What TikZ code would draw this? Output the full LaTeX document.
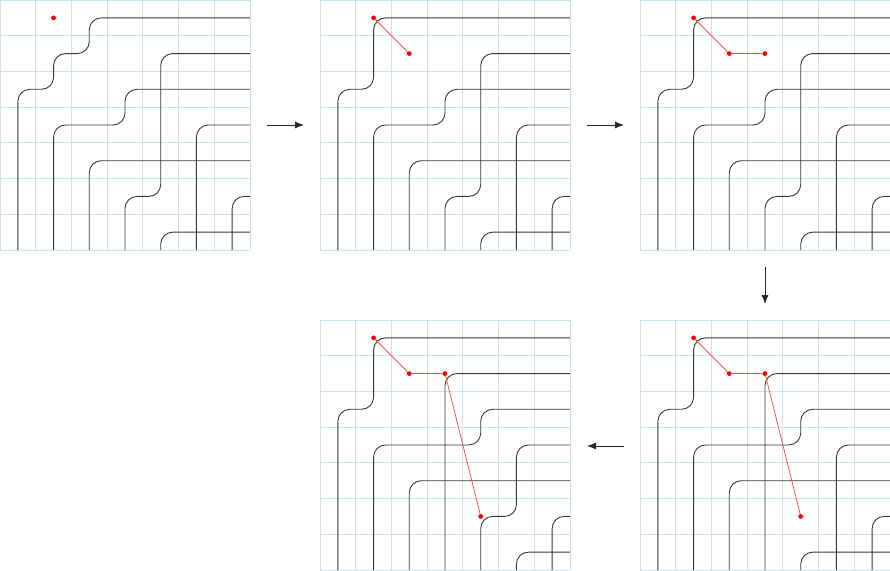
\documentclass[tikz,border=0pt]{standalone}
\usetikzlibrary{arrows.meta}
\definecolor{gridblue}{RGB}{198,228,238}
\definecolor{wiregray}{RGB}{55,55,55}
\definecolor{pathred}{RGB}{242,80,80}
\tikzset{
  gridline/.style={draw=gridblue, line width=0.8pt},
  wire/.style={draw=wiregray, line width=0.9pt, rounded corners=12pt},
  dot/.style={circle, fill=red, draw=none, inner sep=0pt, minimum size=4.8pt},
  redpath/.style={draw=pathred, line width=0.8pt},
  steparrow/.style={-{Latex[length=9pt,width=7pt]}, line width=0.8pt, draw=black!85, fill=black},
  panelscope/.style={x=35.7143pt, y=-35.7143pt}
}
\newcommand\mygrid{%
  \foreach \i in {0,...,7}{%
    \draw[gridline] (\i,0) -- (\i,7);
    \draw[gridline] (0,\i) -- (7,\i);
  }}
\newcommand\wireOneA{\draw[wire] (0.5,7) -- (0.5,2.5) -- (1.5,2.5) -- (1.5,1.5) -- (2.5,1.5) -- (2.5,0.5) -- (7,0.5);}
\newcommand\wireOneB{\draw[wire] (0.5,7) -- (0.5,2.5) -- (1.5,2.5) -- (1.5,0.5) -- (7,0.5);}
\newcommand\wireTwoA{\draw[wire] (1.5,7) -- (1.5,3.5) -- (3.5,3.5) -- (3.5,2.5) -- (7,2.5);}
\newcommand\wireTwoB{\draw[wire] (1.5,7) -- (1.5,3.5) -- (4.5,3.5) -- (4.5,2.5) -- (7,2.5);}
\newcommand\wireThree{\draw[wire] (2.5,7) -- (2.5,4.5) -- (7,4.5);}
\newcommand\wireFourA{\draw[wire] (3.5,7) -- (3.5,5.5) -- (4.5,5.5) -- (4.5,1.5) -- (7,1.5);}
\newcommand\wireFourB{\draw[wire] (3.5,7) -- (3.5,1.5) -- (7,1.5);}
\newcommand\wireFiveA{\draw[wire] (4.5,7) -- (4.5,6.5) -- (7,6.5);}
\newcommand\wireFiveB{\draw[wire] (5.5,7) -- (5.5,6.5) -- (7,6.5);}
\newcommand\wireSixA{\draw[wire] (5.5,7) -- (5.5,3.5) -- (7,3.5);}
\newcommand\wireSixB{\draw[wire] (4.5,7) -- (4.5,5.5) -- (5.5,5.5) -- (5.5,3.5) -- (7,3.5);}
\newcommand\wireSeven{\draw[wire] (6.5,7) -- (6.5,5.5) -- (7,5.5);}
\begin{document}
\begin{tikzpicture}[x=1pt, y=-1pt]
\useasboundingbox (0,0) rectangle (890,570);
% panel 1
\begin{scope}[shift={(0,0)}, panelscope]
  \mygrid
  \wireOneA \wireTwoA \wireThree \wireFourA \wireFiveA \wireSixA \wireSeven
  \node[dot] (pa1) at (1.5,0.5) {};
\end{scope}
% panel 2
\begin{scope}[shift={(320,0)}, panelscope]
  \mygrid
  \wireOneB \wireTwoA \wireThree \wireFourA \wireFiveA \wireSixA \wireSeven
  \node[dot] (pb1) at (1.5,0.5) {};
  \node[dot] (pb2) at (2.5,1.5) {};
  \draw[redpath] (pb1) -- (pb2);
\end{scope}
% panel 3
\begin{scope}[shift={(640,0)}, panelscope]
  \mygrid
  \wireOneB \wireTwoA \wireThree \wireFourA \wireFiveA \wireSixA \wireSeven
  \node[dot] (pc1) at (1.5,0.5) {};
  \node[dot] (pc2) at (2.5,1.5) {};
  \node[dot] (pc3) at (3.5,1.5) {};
  \draw[redpath] (pc1) -- (pc2) -- (pc3);
\end{scope}
% panel 4 (bottom right)
\begin{scope}[shift={(640,320)}, panelscope]
  \mygrid
  \wireOneB \wireTwoB \wireThree \wireFourB \wireFiveA \wireSixA \wireSeven
  \node[dot] (pd1) at (1.5,0.5) {};
  \node[dot] (pd2) at (2.5,1.5) {};
  \node[dot] (pd3) at (3.5,1.5) {};
  \node[dot] (pd4) at (4.5,5.5) {};
  \draw[redpath] (pd1) -- (pd2) -- (pd3) -- (pd4);
\end{scope}
% panel 5 (bottom middle)
\begin{scope}[shift={(320,320)}, panelscope]
  \mygrid
  \wireOneB \wireTwoB \wireThree \wireFourB \wireFiveB \wireSixB \wireSeven
  \node[dot] (pe1) at (1.5,0.5) {};
  \node[dot] (pe2) at (2.5,1.5) {};
  \node[dot] (pe3) at (3.5,1.5) {};
  \node[dot] (pe4) at (4.5,5.5) {};
  \draw[redpath] (pe1) -- (pe2) -- (pe3) -- (pe4);
\end{scope}
% arrows between panels
\coordinate (a1s) at (267,125);
\coordinate (a1e) at (304,125);
\coordinate (a2s) at (587,125);
\coordinate (a2e) at (624,125);
\coordinate (a3s) at (765,267);
\coordinate (a3e) at (765,304);
\coordinate (a4s) at (624,446);
\coordinate (a4e) at (587,446);
\draw[steparrow] (a1s) -- (a1e);
\draw[steparrow] (a2s) -- (a2e);
\draw[steparrow] (a3s) -- (a3e);
\draw[steparrow] (a4s) -- (a4e);
\end{tikzpicture}
\end{document}
